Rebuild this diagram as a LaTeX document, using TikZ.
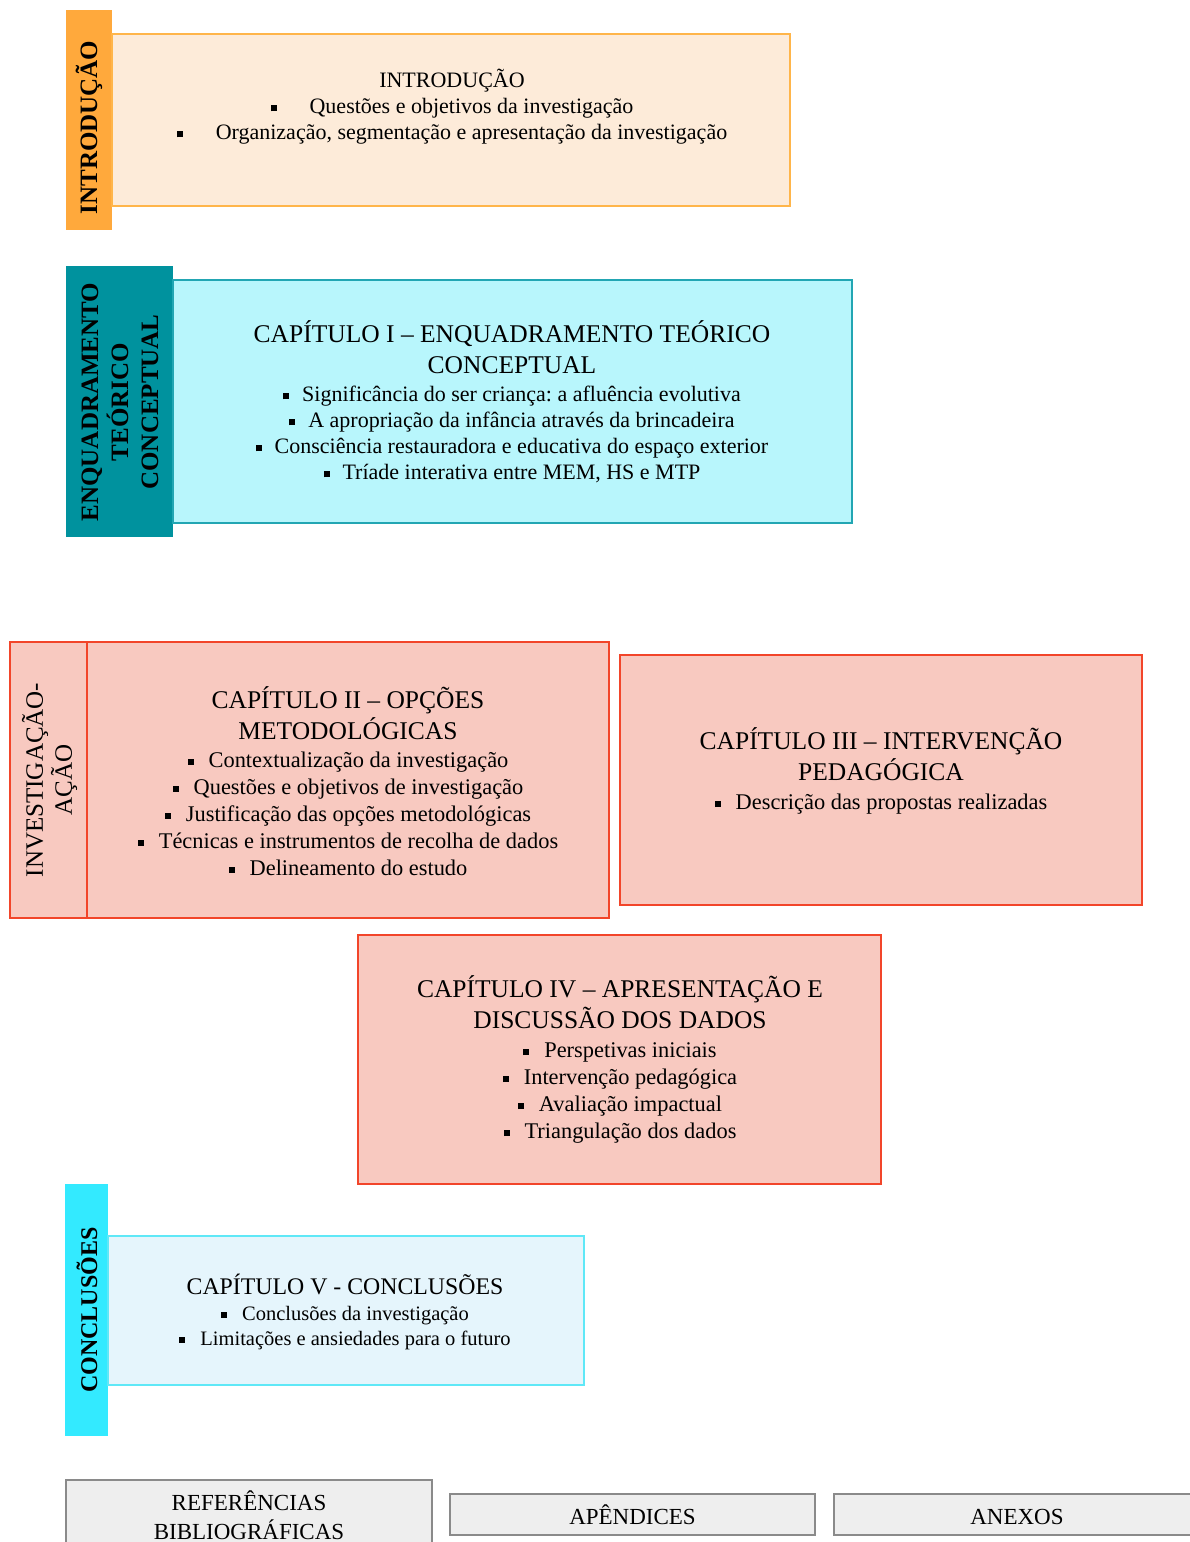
\documentclass[tikz,border=0pt]{standalone}
\usepackage{fontspec}
\setmainfont{Liberation Serif}
\usetikzlibrary{positioning}
\frenchspacing

\definecolor{introside}{HTML}{FFA93C}
\definecolor{introfill}{HTML}{FDEBD9}
\definecolor{introline}{HTML}{FFB54A}
\definecolor{teoside}{HTML}{00929E}
\definecolor{teofill}{HTML}{B8F6FC}
\definecolor{teoline}{HTML}{22A6B3}
\definecolor{invfill}{HTML}{F8C9C0}
\definecolor{invline}{HTML}{F2452A}
\definecolor{concside}{HTML}{33EAFF}
\definecolor{concfill}{HTML}{E5F5FC}
\definecolor{concline}{HTML}{5FE8F7}
\definecolor{endfill}{HTML}{EEEEEE}
\definecolor{endline}{HTML}{8A8A8A}

% small square bullet, optional gap after it
\newcommand{\bul}[1][7.5pt]{\raisebox{1.2pt}{\rule{3pt}{3pt}}\hspace{#1}}
\newcommand{\ttl}[1]{{\fontsize{12.75}{15.5}\selectfont #1}}
\newcommand{\tightskip}{\lineskiplimit-20pt\relax}

\tikzset{
        % Coloured bars on the left
        sidebar/.style={rectangle, inner sep=0pt, outer sep=0pt},
        % Vertical labels of the bars
        sidelabel/.style={rotate=90, align=center, inner sep=0pt,
                font=\fontsize{12.5}{15}\selectfont\bfseries},
        % Chapter boxes
        chapbox/.style={rectangle, draw, line width=0.9pt, inner sep=0pt, outer sep=0pt},
        % Chapter texts
        chaptext/.style={align=center, inner sep=0pt,
                font=\fontsize{11.2}{13.5}\selectfont\tightskip},
        % Boxes at the bottom
        endbox/.style={rectangle, draw=endline, fill=endfill, line width=0.9pt, inner sep=0pt,
                minimum width=183pt, minimum height=20.5pt, align=center,
                text height=10pt, text depth=0.5pt,
                font=\fontsize{11.5}{14.5}\selectfont}
}

\begin{document}
\begin{tikzpicture}[x=0.5pt, y=-0.5pt]
    \useasboundingbox (0,0) rectangle (1189,1542);

    % Introducao
    \node[sidebar, fill=introside, minimum width=23pt, minimum height=110pt] (introside) at (89,120) {};
    \node[sidelabel] (introlbl) at (89,127.5) {INTRODUÇÃO};
    \node[chapbox, draw=introline, fill=introfill, minimum width=339pt, minimum height=86pt] (introbox) at (451,120) {};
    \node[chaptext, font=\fontsize{11}{13}\selectfont] (introtxt) at (452,107) {
        INTRODUÇÃO\\
        \bul[16.5pt]Questões e objetivos da investigação\\
        \bul[16.5pt]Organização, segmentação e apresentação da investigação};

    % Enquadramento
    \node[sidebar, fill=teoside, minimum width=53.5pt, minimum height=135.5pt] (teoside) at (119.5,401.5) {};
    \node[sidelabel] (teolbl) at (120,402) {ENQUADRAMENTO\\TEÓRICO\\CONCEPTUAL};
    \node[chapbox, draw=teoline, fill=teofill, minimum width=339.5pt, minimum height=121.5pt] (cap1box) at (512.5,401.5) {};
    \node[chaptext, font=\fontsize{11}{13}\selectfont\tightskip] (cap1txt) at (512,402) {
        \ttl{CAPÍTULO I – ENQUADRAMENTO TEÓRICO}\\[2.5pt]
        \ttl{CONCEPTUAL}\\[1pt]
        \bul[6.5pt]Significância do ser criança: a afluência evolutiva\\
        \bul[6.5pt]A apropriação da infância através da brincadeira\\
        \bul[6.5pt]Consciência restauradora e educativa do espaço exterior\\
        \bul[6.5pt]Tríade interativa entre MEM, HS e MTP};

    % Investigacao-accao
    \node[chapbox, draw=invline, fill=invfill, minimum width=38.5pt, minimum height=138pt] (invside) at (48.5,780) {};
    \node[sidelabel, font=\fontsize{12.5}{14.5}\selectfont] (invlbl) at (49.5,780) {INVESTIGAÇÃO-\\AÇÃO};
    \node[chapbox, draw=invline, fill=invfill, minimum width=261pt, minimum height=138pt] (cap2box) at (348,780) {};
    \node[chaptext] (cap2txt) at (348,781) {
        \ttl{CAPÍTULO II – OPÇÕES}\\[2pt]
        \ttl{METODOLÓGICAS}\\[0.5pt]
        \bul Contextualização da investigação\\
        \bul Questões e objetivos de investigação\\
        \bul Justificação das opções metodológicas\\
        \bul Técnicas e instrumentos de recolha de dados\\
        \bul Delineamento do estudo};

    \node[chapbox, draw=invline, fill=invfill, minimum width=261pt, minimum height=125pt] (cap3box) at (881,780) {};
    \node[chaptext] (cap3txt) at (881,771) {
        \ttl{CAPÍTULO III – INTERVENÇÃO}\\[2pt]
        \ttl{PEDAGÓGICA}\\[1pt]
        \bul Descrição das propostas realizadas};

    \node[chapbox, draw=invline, fill=invfill, minimum width=261.5pt, minimum height=124.5pt] (cap4box) at (619.5,1059.5) {};
    \node[chaptext] (cap4txt) at (620,1059.5) {
        \ttl{CAPÍTULO IV – APRESENTAÇÃO E}\\[2pt]
        \ttl{DISCUSSÃO DOS DADOS}\\[1pt]
        \bul Perspetivas iniciais\\
        \bul Intervenção pedagógica\\
        \bul Avaliação impactual\\
        \bul Triangulação dos dados};

    % Conclusoes
    \node[sidebar, fill=concside, minimum width=21.5pt, minimum height=126pt] (concside) at (86.5,1310) {};
    \node[sidelabel, font=\fontsize{12}{15}\selectfont\bfseries] (conclbl) at (87,1310) {CONCLUSÕES};
    \node[chapbox, draw=concline, fill=concfill, minimum width=238pt, minimum height=74.5pt] (cap5box) at (346,1310.5) {};
    \node[chaptext, font=\fontsize{10.25}{12.5}\selectfont\tightskip] (cap5txt) at (345,1311.5) {
        {\fontsize{11.9}{14}\selectfont CAPÍTULO V - CONCLUSÕES}\\[0.5pt]
        \bul Conclusões da investigação\\
        \bul Limitações e ansiedades para o futuro};

    % Referencias, apendices, anexos
    \node[endbox, minimum height=40pt] (refs) at (249,1520) {};
    \node[chaptext, font=\fontsize{11.5}{14.5}\selectfont] (refstxt) at (249,1515.5) {REFERÊNCIAS\\BIBLIOGRÁFICAS};
    \node[endbox, minimum width=182.5pt] (apend) at (632.5,1514.5) {APÊNDICES};
    \node[endbox] (anexos) at (1017,1514.5) {ANEXOS};
\end{tikzpicture}
\end{document}
